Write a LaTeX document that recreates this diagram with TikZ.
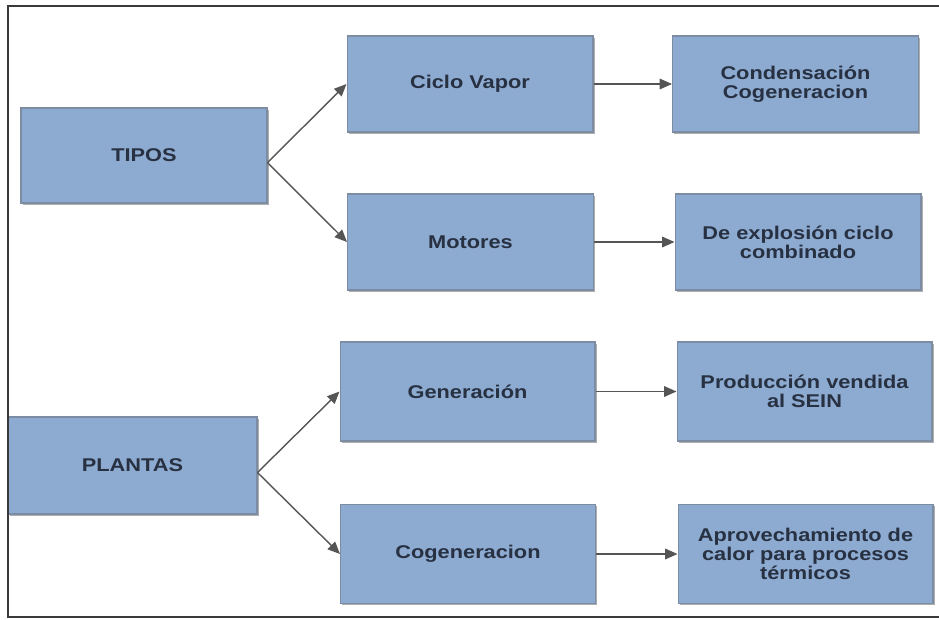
\documentclass[tikz,border=0pt]{standalone}
\usepackage{fontspec}
\setmainfont{Liberation Sans}[FakeStretch=1.18]
\usepackage{xcolor}
\usepackage{tikz}
\usetikzlibrary{arrows.meta,shadows}
\definecolor{boxfill}{HTML}{8DAAD0}
\definecolor{boxline}{HTML}{7C8DA3}
\definecolor{ink}{HTML}{273142}
\definecolor{arrowc}{HTML}{555555}
\definecolor{frame}{HTML}{3A3A3A}
\tikzset{
  box/.style={draw=boxline, fill=boxfill, line width=0.6pt, inner sep=2pt,
    align=center, text=ink, font=\bfseries\fontsize{10.5}{10.8}\selectfont,
    drop shadow={shadow xshift=1.1pt, shadow yshift=-1.1pt, fill=black!45, opacity=0.7}},
  topbox/.style={box, minimum width=4.92cm, minimum height=1.92cm},
  lowbox/.style={box, minimum width=5.10cm, minimum height=1.98cm},
  link/.style={draw=arrowc, line width=0.8pt, -{Triangle[length=7pt,width=6pt]}},
  border/.style={draw=frame, line width=0.9pt}
}

\begin{document}
\begin{tikzpicture}[x=0.02cm, y=-0.02cm]
  \useasboundingbox (0,0) rectangle (939,619);

  % tipos
  \node[topbox, minimum height=1.90cm] (tipos) at (144,155.5) {TIPOS};
  \node[topbox] (ciclo) at (470,84) {Ciclo Vapor};
  \node[topbox] (motores) at (470.5,242) {Motores};
  \node[topbox] (conden) at (795.5,84) {Condensación\\Cogeneracion};
  \node[topbox] (explo) at (798,242) {De explosión ciclo\\combinado};

  % plantas
  \node[box, minimum width=4.98cm, minimum height=1.94cm] (plantas) at (132.5,465.5) {PLANTAS};
  \node[lowbox] (gener) at (467.5,391.5) {Generación};
  \node[lowbox] (cogen) at (468,554) {Cogeneracion};
  \node[lowbox] (produc) at (804.5,391.5) {Producción vendida\\al SEIN};
  \node[lowbox] (aprov) at (805.5,554) {Aprovechamiento de\\calor para procesos\\térmicos};

  \draw[link] ([yshift=-4pt]tipos.east) -- (ciclo.west);
  \draw[link] ([yshift=-4pt]tipos.east) -- (motores.west);
  \draw[link] (ciclo.east) -- (conden.west);
  \draw[link] (motores.east) -- (explo.west);

  \draw[link] ([yshift=-4pt]plantas.east) -- (gener.west);
  \draw[link] ([yshift=-4pt]plantas.east) -- (cogen.west);
  \draw[link] (gener.east) -- (produc.west);
  \draw[link] (cogen.east) -- (aprov.west);

  \draw[border] (939,6) -- (8,6) -- (8,617) -- (939,617);
\end{tikzpicture}
\end{document}
